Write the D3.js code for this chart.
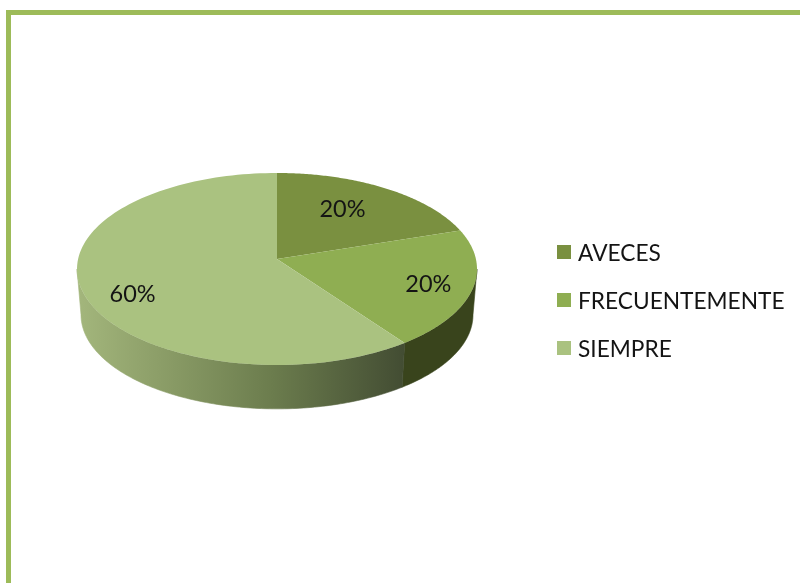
<!DOCTYPE html>
<html>
<head>
<meta charset="utf-8">
<script src="https://cdn.jsdelivr.net/npm/d3@7"></script>
<style>
    html, body { margin: 0; padding: 0; background: #fff; }
    svg { display: block; filter: blur(0.4px); }
    text { font-family: "Lato", "Open Sans", sans-serif; fill: #141414; }
</style>
</head>
<body>
<div id="visualization"></div>
<script>
var categories = ["AVECES", "FRECUENTEMENTE", "SIEMPRE"];
var percents = [20, 20, 60];
var colors = ["#7a9040", "#8fae52", "#aac280"];

var width = 800, height = 583;
var svg = d3.select("#visualization").append("svg")
    .attr("width", width)
    .attr("height", height);

// frame, only top and left sides show in the picture
svg.append("path")
    .attr("d", d3.line()([[width, 12.5], [8.5, 12.5], [8.5, height]]))
    .attr("fill", "none")
    .attr("stroke", "#9dbb59")
    .attr("stroke-width", 5);

// disc is tilted with a bit of perspective, apex sits above the ellipse centre
var cx = 277, cy = 259;
var rx = 198.9, ry = 94.96, persp = 0.104;
var depth = 46, shrink = 0.98;

function project(angle, r) {
    var u = Math.sin(angle) * r;
    var v = -Math.cos(angle) * r;
    var s = 1 / (1 - persp * v);
    return [cx + rx * u * s, cy + ry * v * s];
}
function lower(p) {
    return [cx + (p[0] - cx) * shrink, cy + depth + (p[1] - cy) * shrink];
}
function rim(a0, a1) {
    return d3.range(0, 121).map(function(i) {
        return project(a0 + (a1 - a0) * i / 120, 1);
    });
}

var arcs = d3.pie().sort(null)(percents);
var line = d3.line();

// the wall only shows between the widest points of the disc
var sweep = d3.range(0, 720).map(function(i) { return i / 720 * 2 * Math.PI; });
var frontStart = d3.greatest(sweep, function(a) { return project(a, 1)[0]; });
var frontEnd = d3.least(sweep, function(a) { return project(a, 1)[0]; });

var defs = svg.append("defs");
var grad = defs.append("linearGradient")
    .attr("id", "wallGrad")
    .attr("gradientUnits", "userSpaceOnUse")
    .attr("x1", 78).attr("x2", 403)
    .attr("y1", 0).attr("y2", 0);
grad.append("stop").attr("offset", "0").attr("stop-color", "#a3b67c");
grad.append("stop").attr("offset", "0.25").attr("stop-color", "#8c9e68");
grad.append("stop").attr("offset", "0.6").attr("stop-color", "#6b7c4d");
grad.append("stop").attr("offset", "1").attr("stop-color", "#434d33");

var wallFills = ["#39441c", "#39441c", "url(#wallGrad)"];

// stroke in the same fill so no seam shows between the walls
svg.selectAll("path.wall")
    .data(arcs)
    .enter().append("path")
    .attr("class", "wall")
    .attr("fill", function(d, i) { return wallFills[i]; })
    .attr("stroke", function(d, i) { return wallFills[i]; })
    .attr("stroke-width", 0.6)
    .attr("d", function(d) {
        var a0 = Math.max(d.startAngle, frontStart);
        var a1 = Math.min(d.endAngle, frontEnd);
        if (a1 <= a0) return null;
        var top = rim(a0, a1);
        return line(top.concat(top.map(lower).reverse())) + "Z";
    });

svg.selectAll("path.slice")
    .data(arcs)
    .enter().append("path")
    .attr("class", "slice")
    .attr("fill", function(d, i) { return colors[i]; })
    .attr("d", function(d) {
        return line([[cx, cy]].concat(rim(d.startAngle, d.endAngle))) + "Z";
    });

var labelRadius = 0.75;
var labelNudge = [[-17, 4], [6, 2], [1, 12.5]];
svg.selectAll("text.pct")
    .data(arcs)
    .enter().append("text")
    .attr("class", "pct")
    .attr("text-anchor", "middle")
    .attr("dy", "0.35em")
    .attr("font-size", 23.5)
    .attr("transform", function(d, i) {
        var p = project((d.startAngle + d.endAngle) / 2, labelRadius);
        return "translate(" + (p[0] + labelNudge[i][0]) + "," + (p[1] + labelNudge[i][1]) + ")";
    })
    .text(function(d) { return d.data + "%"; });

// legend
var legendY = d3.scalePoint().domain(categories).range([252, 348]);
var legend = svg.selectAll("g.legend")
    .data(categories)
    .enter().append("g")
    .attr("class", "legend")
    .attr("transform", function(d) { return "translate(557," + legendY(d) + ")"; });
legend.append("rect")
    .attr("y", -7)
    .attr("width", 14)
    .attr("height", 14)
    .attr("fill", function(d, i) { return colors[i]; });
legend.append("text")
    .attr("x", 21)
    .attr("y", 1)
    .attr("dy", "0.35em")
    .attr("font-size", 22.7)
    .text(function(d) { return d; });
</script>
</body>
</html>
